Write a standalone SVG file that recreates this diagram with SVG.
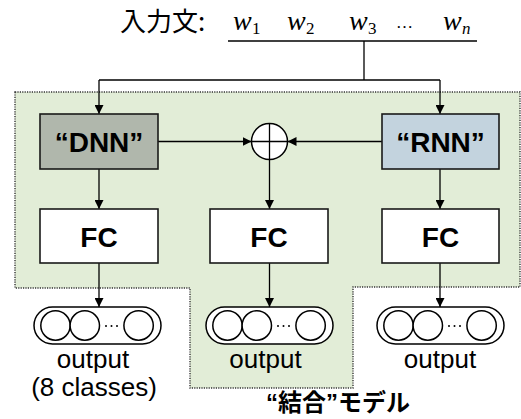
<svg xmlns="http://www.w3.org/2000/svg" width="521" height="419" viewBox="0 0 521 419">
  <style>
    .conn { fill: none; stroke: #000; stroke-width: 1.3; }
    .box { stroke: #1a1a1a; stroke-width: 1.6; }
    .fc { fill: #ffffff; }
    .lbl { font-family: "Liberation Sans", Arial, sans-serif; font-weight: bold; font-size: 28px; text-anchor: middle; fill: #000; }
    .out { font-family: "Liberation Sans", Arial, sans-serif; font-size: 26px; text-anchor: middle; fill: #000; }
    .pill { fill: #ffffff; stroke: #000; stroke-width: 1.5; }
    .cell { fill: #ffffff; stroke: #000; stroke-width: 1.5; }
    .math { font-family: "Liberation Serif", "Times New Roman", serif; font-style: italic; font-size: 28px; fill: #000; }
    .sub { font-family: "Liberation Serif", "Times New Roman", serif; font-size: 17px; fill: #000; }
  </style>
  <defs>
    <marker id="arr" markerUnits="userSpaceOnUse" markerWidth="9" markerHeight="9" refX="9" refY="4.5" orient="auto">
      <path d="M0,0 L9,4.5 L0,9 Z" fill="#000"/>
    </marker>
    <g id="pillShape">
      <rect class="pill" x="0" y="0" width="127" height="37" rx="18.5" ry="18.5"/>
      <circle class="cell" cx="21.5" cy="18.5" r="14.7"/>
      <circle class="cell" cx="50.8" cy="18.5" r="14.7"/>
      <circle class="cell" cx="104.6" cy="18.5" r="14.7"/>
      <circle cx="72" cy="19" r="1" fill="#000"/>
      <circle cx="77.5" cy="19" r="1" fill="#000"/>
      <circle cx="83" cy="19" r="1" fill="#000"/>
    </g>
  </defs>

  <!-- combined model region -->
  <g id="region">
    <path d="M15,92 H520 V287 H353 V388 H190 V288 H15 Z" fill="#e2edd7" stroke="#333" stroke-width="1.4" stroke-dasharray="1.2 1.2"/>
  </g>

  <!-- input sentence -->
  <g id="input">
    <text x="120" y="31" font-family="Noto Sans CJK JP, sans-serif" font-size="26" fill="#000">入力文:</text>
    <text class="math" x="233" y="30">w</text><text class="sub" x="252" y="34">1</text>
    <text class="math" x="287" y="30">w</text><text class="sub" x="306" y="34">2</text>
    <text class="math" x="349" y="30">w</text><text class="sub" x="368" y="34">3</text>
    <text class="sub" x="396" y="28" font-size="28">…</text>
    <text class="math" x="443" y="30">w</text><text class="sub" x="462" y="34" font-style="italic">n</text>
    <line x1="228" y1="41" x2="477" y2="41" stroke="#000" stroke-width="1.3"/>
  </g>

  <!-- connectors -->
  <g id="connectors">
    <path class="conn" d="M364,41 V80"/>
    <path class="conn" d="M99,80 H440"/>
    <path class="conn" d="M99,80 V114" marker-end="url(#arr)"/>
    <path class="conn" d="M440,80 V114" marker-end="url(#arr)"/>
    <path class="conn" d="M158,141.5 H251.5" marker-end="url(#arr)"/>
    <path class="conn" d="M382,141.5 H287.5" marker-end="url(#arr)"/>
    <path class="conn" d="M269.5,159.5 V209" marker-end="url(#arr)"/>
    <path class="conn" d="M99,169 V209" marker-end="url(#arr)"/>
    <path class="conn" d="M440,169 V209" marker-end="url(#arr)"/>
    <path class="conn" d="M99,263 V307" marker-end="url(#arr)"/>
    <path class="conn" d="M269.5,263 V307" marker-end="url(#arr)"/>
    <path class="conn" d="M440,263 V307" marker-end="url(#arr)"/>
  </g>

  <g id="dnn">
    <rect class="box" x="40" y="114" width="118" height="55" fill="#b0b7ac"/>
    <text class="lbl" x="99" y="152">“DNN”</text>
  </g>
  <g id="rnn">
    <rect class="box" x="382" y="114" width="117" height="55" fill="#c3d3de"/>
    <text class="lbl" x="440.5" y="152">“RNN”</text>
  </g>
  <g id="sum">
    <circle cx="269.5" cy="141.5" r="18" fill="#fff" stroke="#000" stroke-width="1.5"/>
    <path d="M269.5,123.5 V159.5 M251.5,141.5 H287.5" stroke="#000" stroke-width="1.3" fill="none"/>
  </g>

  <g id="fc-left">
    <rect class="box fc" x="40" y="209" width="118" height="54"/>
    <text class="lbl" x="99" y="247">FC</text>
  </g>
  <g id="fc-mid">
    <rect class="box fc" x="210" y="209" width="118" height="54"/>
    <text class="lbl" x="269" y="247">FC</text>
  </g>
  <g id="fc-right">
    <rect class="box fc" x="382" y="209" width="117" height="54"/>
    <text class="lbl" x="440.5" y="247">FC</text>
  </g>

  <g id="out-left">
    <use href="#pillShape" x="34" y="307"/>
    <text class="out" x="93" y="368">output</text>
    <text class="out" x="94" y="396" font-size="21">(8 classes)</text>
  </g>
  <g id="out-mid">
    <use href="#pillShape" x="206" y="307"/>
    <text class="out" x="265.5" y="368">output</text>
  </g>
  <g id="out-right">
    <use href="#pillShape" x="377" y="307"/>
    <text class="out" x="440" y="368">output</text>
  </g>

  <g id="caption">
    <text x="266" y="411" font-family="Noto Sans CJK JP, sans-serif" font-weight="bold" font-size="24" fill="#000"><tspan font-family="Liberation Sans, sans-serif">“</tspan>結合<tspan font-family="Liberation Sans, sans-serif">”</tspan>モデル</text>
  </g>
</svg>
